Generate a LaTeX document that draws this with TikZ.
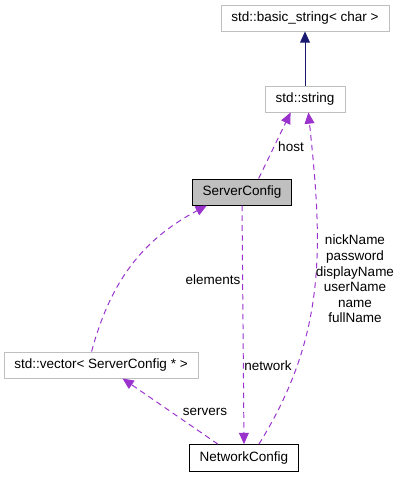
\documentclass[tikz,border=0pt]{standalone}
\usepackage{fontspec}
\setmainfont{Liberation Sans}
\usepackage{xcolor}
\usepackage{tikz}
\usetikzlibrary{arrows.meta}

\definecolor{edgepurple}{HTML}{9A32CD}
\definecolor{edgenavy}{HTML}{191970}
\definecolor{boxgray}{HTML}{BFBFBF}

\begin{document}
\begin{tikzpicture}[
    x=0.025cm, y=-0.025cm,
    extblock/.style={rectangle, draw=boxgray, fill=white, minimum height=0.65cm, inner xsep=0.26cm, font=\fontsize{9.6}{11}\selectfont, line width=0.6pt},
    mainblock/.style={rectangle, draw=black, fill=boxgray, minimum height=0.65cm, inner xsep=0.26cm, font=\fontsize{9.6}{11}\selectfont, line width=0.7pt},
    clsblock/.style={rectangle, draw=black, fill=white, minimum height=0.67cm, inner xsep=0.26cm, font=\fontsize{9.6}{11}\selectfont, line width=0.7pt},
    inherit/.style={-{Triangle[length=8pt, width=7pt]}, edgenavy, line width=0.7pt},
    usage/.style={-{Triangle[length=8pt, width=7pt]}, edgepurple, line width=0.7pt, dash pattern=on 4pt off 3pt},
    lbl/.style={font=\fontsize{9.6}{11.1}\selectfont, align=center, inner sep=1pt},
]
\useasboundingbox (0, 0) rectangle (400, 480);

% Classes
\node[extblock] (basicstr) at (305, 18) {std::basic\_string< char >};
\node[extblock, minimum width=2cm] (stdstring) at (305, 99) {std::string};
\node[mainblock] (servercfg) at (242, 192) {ServerConfig};
\node[extblock] (servervec) at (101, 365) {std::vector< ServerConfig * >};
\node[clsblock] (netcfg) at (244, 458) {NetworkConfig};

% Inheritance
\draw[inherit] (stdstring.north) -- (basicstr.south);

% Members
\draw[usage] (servercfg.39) -- (stdstring.-137);
\draw[usage] (netcfg.43) to[out=58, in=-84] (stdstring.-76);
\draw[usage] (servervec.125) to[out=75, in=208] (servercfg.201);
\draw[usage] (servercfg.south) -- (netcfg.north);
\draw[usage] (netcfg.152) -- (servervec.-32);

% Member names
\node[lbl] at (291, 147) {host};
\node[lbl] at (355, 279) {nickName\\password\\displayName\\userName\\name\\fullName};
\node[lbl] at (213, 280) {elements};
\node[lbl] at (268, 366) {network};
\node[lbl] at (205, 412) {servers};

\end{tikzpicture}
\end{document}
